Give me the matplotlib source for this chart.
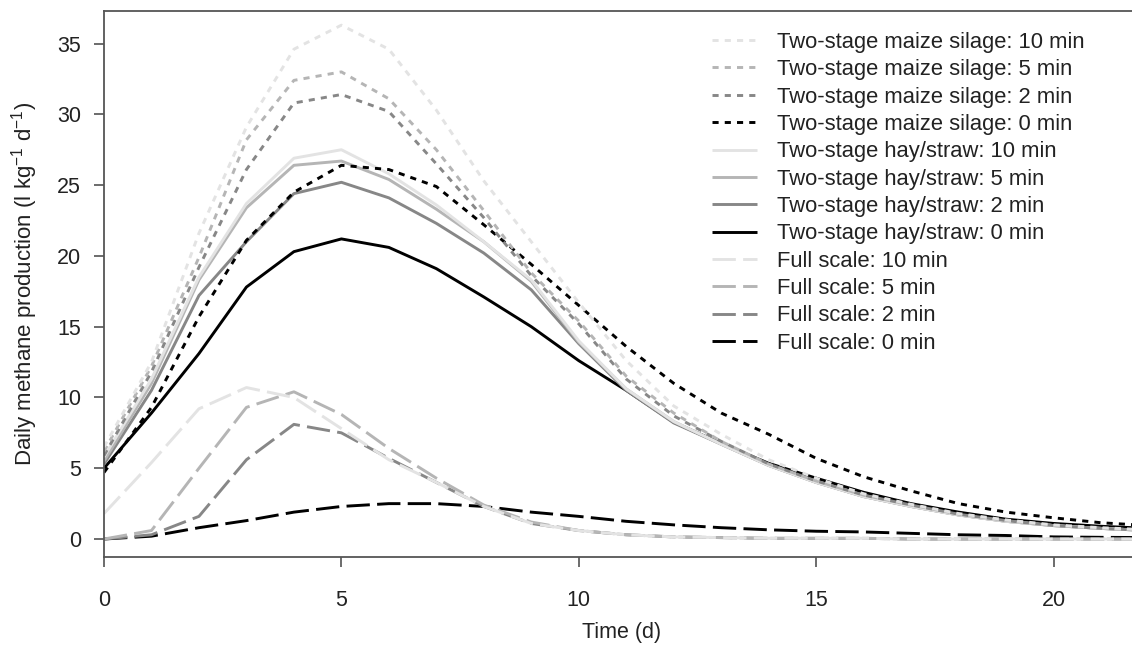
import matplotlib
matplotlib.use("Agg")
import matplotlib.pyplot as plt

plt.rcParams['font.family'] = ['Liberation Sans', 'DejaVu Sans']
plt.rcParams['mathtext.default'] = 'regular'

days = list(range(23))

maize10 = [6.5, 12.5, 21.6, 29.1, 34.6, 36.3, 34.6, 30.3, 25.3, 21.0, 16.7, 12.6, 9.4, 7.4, 5.6, 4.3, 3.2, 2.45, 1.8, 1.35, 1.0, 0.8, 0.65]
maize5 = [6.2, 12.2, 19.9, 28.2, 32.4, 33.0, 31.1, 27.5, 23.2, 18.8, 15.4, 11.5, 8.9, 6.9, 5.3, 4.1, 3.1, 2.4, 1.75, 1.3, 0.95, 0.75, 0.6]
maize2 = [5.9, 11.8, 19.2, 26.1, 30.8, 31.4, 30.2, 26.5, 22.7, 18.6, 15.2, 11.3, 8.7, 6.9, 5.3, 4.1, 3.1, 2.4, 1.75, 1.3, 0.95, 0.75, 0.6]
maize0 = [4.7, 9.3, 15.7, 21.1, 24.5, 26.4, 26.1, 24.9, 22.2, 19.4, 16.5, 13.6, 11.0, 8.9, 7.4, 5.7, 4.4, 3.4, 2.5, 1.9, 1.5, 1.15, 0.95]

hay10 = [5.8, 11.3, 18.5, 23.7, 26.9, 27.5, 25.8, 23.6, 21.0, 18.3, 14.0, 10.6, 8.3, 6.7, 5.2, 4.0, 3.0, 2.3, 1.7, 1.25, 0.95, 0.75, 0.6]
hay5 = [5.5, 11.0, 18.3, 23.4, 26.4, 26.7, 25.4, 23.3, 21.0, 18.2, 13.9, 10.6, 8.3, 6.7, 5.2, 4.0, 3.0, 2.3, 1.7, 1.25, 0.95, 0.75, 0.6]
hay2 = [5.3, 10.5, 17.2, 21.0, 24.4, 25.2, 24.1, 22.3, 20.2, 17.6, 13.8, 10.5, 8.2, 6.7, 5.2, 4.0, 3.0, 2.3, 1.7, 1.25, 0.95, 0.75, 0.6]
hay0 = [5.0, 8.9, 13.1, 17.8, 20.3, 21.2, 20.6, 19.1, 17.1, 15.0, 12.6, 10.5, 8.25, 6.75, 5.35, 4.3, 3.3, 2.5, 1.9, 1.4, 1.1, 0.9, 0.75]

full10 = [1.8, 5.4, 9.2, 10.7, 10.0, 7.8, 5.6, 4.0, 2.3, 1.1, 0.6, 0.3, 0.15, 0.1, 0.05, 0.05, 0.05, 0.0, 0.0, 0.0, 0.0, 0.0, 0.0]
full5 = [0.0, 0.6, 5.0, 9.3, 10.4, 8.8, 6.4, 4.3, 2.4, 1.2, 0.6, 0.3, 0.15, 0.1, 0.05, 0.05, 0.05, 0.0, 0.0, 0.0, 0.0, 0.0, 0.0]
full2 = [0.0, 0.3, 1.6, 5.6, 8.1, 7.5, 5.7, 4.0, 2.3, 1.1, 0.6, 0.3, 0.15, 0.1, 0.05, 0.05, 0.05, 0.0, 0.0, 0.0, 0.0, 0.0, 0.0]
full0 = [0.0, 0.2, 0.8, 1.3, 1.9, 2.3, 2.5, 2.5, 2.3, 1.9, 1.6, 1.25, 1.0, 0.8, 0.65, 0.55, 0.5, 0.4, 0.3, 0.25, 0.15, 0.12, 0.1]

labels = [
    "Two-stage maize silage: 10 min", "Two-stage maize silage: 5 min",
    "Two-stage maize silage: 2 min", "Two-stage maize silage: 0 min",
    "Two-stage hay/straw: 10 min", "Two-stage hay/straw: 5 min",
    "Two-stage hay/straw: 2 min", "Two-stage hay/straw: 0 min",
    "Full scale: 10 min", "Full scale: 5 min", "Full scale: 2 min", "Full scale: 0 min",
]
series = [maize10, maize5, maize2, maize0, hay10, hay5, hay2, hay0, full10, full5, full2, full0]
greys = ['#e3e3e3', '#b5b5b5', '#878787', '#000000']
dotted = (0, (2.1, 2.1))
longdash = (0, (8.0, 2.5))
styles = [dotted] * 4 + ['-'] * 4 + [longdash] * 4

W, H = 1132, 649
fig = plt.figure(figsize=(W / 100, H / 100), dpi=100)
ax = fig.add_axes([104 / W, (H - 557) / H, (1139 - 104) / W, (557 - 11) / H])

draw_order = [7, 6, 5, 4, 3, 2, 1, 0, 11, 10, 9, 8]
lines = {}
for i in draw_order:
    ln, = ax.plot(days, series[i], color=greys[i % 4], linestyle=styles[i],
                  linewidth=2.1, label=labels[i], solid_capstyle='butt', dash_capstyle='butt')
    lines[i] = ln

ax.set_xlim(0, 21.8)
ax.set_ylim(-1.27, 37.3)
ax.set_xticks([0, 5, 10, 15, 20])
ax.set_yticks([0, 5, 10, 15, 20, 25, 30, 35])
ax.tick_params(axis='both', direction='out', length=7.5, width=1.1, color='#444444',
               labelsize=15.5, labelcolor='#222222')
ax.tick_params(axis='x', pad=16)
ax.tick_params(axis='y', pad=9)
for s in ax.spines.values():
    s.set_color('#555555')
    s.set_linewidth(1.3)

ax.set_xlabel('Time (d)', fontsize=15.5, color='#222222', labelpad=8)
ax.set_ylabel(r'Daily methane production (l kg$^{-1}$ d$^{-1}$)', fontsize=16,
              color='#222222', labelpad=12)

handles = [lines[i] for i in range(12)]
fig.legend(handles, labels, loc='upper left', bbox_to_anchor=(712 / W, 1 - 31.8 / H),
           frameon=False, fontsize=15.8, handlelength=2.05, handletextpad=0.91,
           labelspacing=0.29, borderpad=0, borderaxespad=0, labelcolor='#222222')

fig.savefig('out.png', dpi=100)
